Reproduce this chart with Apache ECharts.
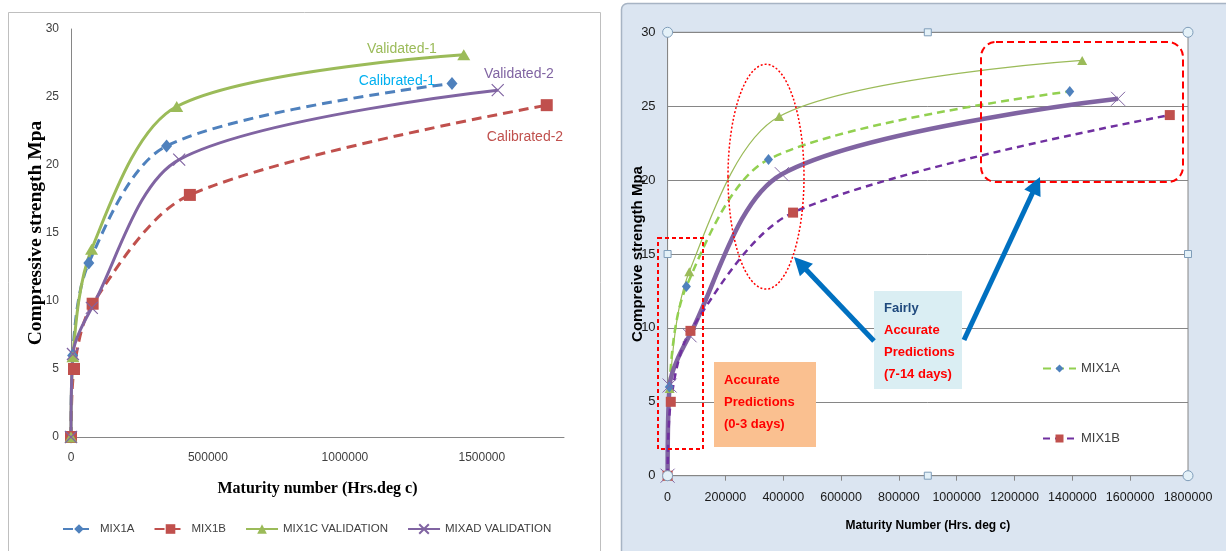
<!DOCTYPE html>
<html>
<head>
<meta charset="utf-8">
<script src="https://cdn.jsdelivr.net/npm/echarts@6/dist/echarts.min.js"></script>
<style>html,body{margin:0;padding:0;background:#fff;}#c{width:1226px;height:551px;}</style>
</head>
<body>
<div id="c"></div>
<script>
// ---- data ----
const mix1aX = [0, 6000, 65000, 349000, 1391000];
const mix1aY = [0, 6.0, 12.8, 21.4, 26.0];
const mix1bX = [0, 11000, 79000, 434000, 1737000];
const mix1bY = [0, 5.0, 9.8, 17.8, 24.4];
const mix1cX = [0, 7000, 75000, 386000, 1434000];
const mix1cY = [0, 5.9, 13.8, 24.3, 28.1];
const mixadX = [0, 7000, 76000, 395000, 1558000];
const mixadY = [0, 6.1, 9.5, 20.4, 25.5];
const seriesNames = ['MIX1A', 'MIX1B', 'MIX1C VALIDATION', 'MIXAD VALIDATION'];
const rightLegendNames = ['MIX1A', 'MIX1B'];
const leftNotes = ['Validated-1', 'Calibrated-1', 'Validated-2', 'Calibrated-2'];
const box1Lines = ['Accurate', 'Predictions', '(0-3 days)'];
const box2Lines = ['Fairly', 'Accurate', 'Predictions', '(7-14 days)'];
const yTitleLeft = 'Compressive strength Mpa';
const xTitleLeft = 'Maturity number (Hrs.deg c)';
const yTitleRight = 'Compreive strength Mpa';
const xTitleRight = 'Maturity Number (Hrs. deg c)';

function pts(xs, ys) { return xs.map((x, i) => [x, ys[i]]); }
const XSYM = 'path://M0,0L10,10M10,0L0,10';

function arrow(x1, y1, x2, y2, w, hl, hw, color) {
  const dx = x2 - x1, dy = y2 - y1, L = Math.sqrt(dx * dx + dy * dy);
  const ux = dx / L, uy = dy / L, px = -uy, py = ux;
  const bx = x2 - ux * hl, by = y2 - uy * hl;
  return [
    { type: 'line', z: 80, shape: { x1: x1, y1: y1, x2: bx + ux * 2, y2: by + uy * 2 }, style: { stroke: color, lineWidth: w } },
    { type: 'polygon', z: 80, shape: { points: [[x2, y2], [bx + px * hw, by + py * hw], [bx - px * hw, by - py * hw]] }, style: { fill: color } }
  ];
}

const PL = 667.6, PT = 32.3, PR = 1188, PB = 475.7;
const handles = [];
[[PL, PT], [PR, PT], [PL, PB], [PR, PB]].forEach(p => handles.push({ type: 'circle', z: 90, shape: { cx: p[0], cy: p[1], r: 5 }, style: { fill: '#E4F1F8', stroke: '#7F9DB9', lineWidth: 1 } }));
[[(PL + PR) / 2, PT], [PL, (PT + PB) / 2], [PR, (PT + PB) / 2], [(PL + PR) / 2, PB]].forEach(p => handles.push({ type: 'rect', z: 90, shape: { x: p[0] - 3.5, y: p[1] - 3.5, width: 7, height: 7 }, style: { fill: '#E4F1F8', stroke: '#7F9DB9', lineWidth: 1 } }));

const noteFont = '14px "Liberation Sans", Arial, sans-serif';
const boxFont = 'bold 13px "Liberation Sans", Arial, sans-serif';

const graphics = [
  { type: 'rect', z: -5, shape: { x: 8.5, y: 12.5, width: 592, height: 560 }, style: { fill: '#fff', stroke: '#BFBFBF', lineWidth: 1 } },
  { type: 'rect', z: -5, shape: { x: 621.5, y: 3.5, width: 620, height: 560, r: 6 }, style: { fill: '#DBE5F1', stroke: '#A7B4C4', lineWidth: 1.5 } },
  // left notes
  { type: 'text', z: 50, style: { text: leftNotes[0], x: 402, y: 49, align: 'center', verticalAlign: 'middle', font: noteFont, fill: '#9BBB59' } },
  { type: 'text', z: 50, style: { text: leftNotes[1], x: 397, y: 81, align: 'center', verticalAlign: 'middle', font: noteFont, fill: '#00B0F0' } },
  { type: 'text', z: 50, style: { text: leftNotes[2], x: 519, y: 74, align: 'center', verticalAlign: 'middle', font: noteFont, fill: '#8064A2' } },
  { type: 'text', z: 50, style: { text: leftNotes[3], x: 525, y: 137, align: 'center', verticalAlign: 'middle', font: noteFont, fill: '#C0504D' } },
  // right annotations
  { type: 'rect', z: 50, shape: { x: 658, y: 238, width: 45, height: 211 }, style: { fill: 'none', stroke: '#FF0000', lineWidth: 2, lineDash: [4, 3] } },
  { type: 'rect', z: 50, shape: { x: 981, y: 42, width: 202, height: 140, r: 15 }, style: { fill: 'none', stroke: '#FF0000', lineWidth: 2, lineDash: [7, 4] } },
  { type: 'ellipse', z: 50, shape: { cx: 766, cy: 176.7, rx: 38, ry: 112.4 }, style: { fill: 'none', stroke: '#FF0000', lineWidth: 1.5, lineDash: [2, 2] } },
  { type: 'rect', z: 50, shape: { x: 714, y: 362, width: 102, height: 85 }, style: { fill: '#FAC090' } },
  { type: 'rect', z: 50, shape: { x: 874, y: 291, width: 88, height: 98 }, style: { fill: '#DAEEF3' } },
  ...arrow(874, 341, 794, 257, 5, 18, 9, '#0070C0'),
  ...arrow(964, 340, 1040, 177, 5, 18, 9, '#0070C0'),
  ...handles
];
box1Lines.forEach((t, i) => graphics.push({ type: 'text', z: 60, style: { text: t, x: 724, y: 380 + i * 22, verticalAlign: 'middle', font: boxFont, fill: '#FF0000' } }));
box2Lines.forEach((t, i) => graphics.push({ type: 'text', z: 60, style: { text: t, x: 884, y: 308 + i * 22.3, verticalAlign: 'middle', font: boxFont, fill: i === 0 ? '#1F497D' : '#FF0000' } }));

const lblL = { color: '#404040', fontSize: 12, fontFamily: '"Liberation Sans", Arial, sans-serif' };
const SM = 0.3;
const chart = echarts.init(document.getElementById('c'));
chart.setOption({
  animation: false,
  graphic: graphics,
  grid: [
    { left: 71, top: 29, width: 493, height: 408 },
    { left: PL, top: PT, width: PR - PL, height: PB - PT, show: true, backgroundColor: '#fff', borderColor: '#868686', borderWidth: 1 }
  ],
  legend: [
    { data: seriesNames, orient: 'horizontal', left: 57, top: 518, itemWidth: 32, itemHeight: 12, itemGap: 19,
      textStyle: { color: '#404040', fontSize: 11.5, fontFamily: '"Liberation Sans", Arial, sans-serif' } },
    { data: rightLegendNames.map(n => 'R-' + n), orient: 'vertical', left: 1037, top: 357, itemWidth: 33, itemHeight: 10, itemGap: 57,
      formatter: n => n.replace('R-', ''),
      textStyle: { color: '#404040', fontSize: 13, fontFamily: '"Liberation Sans", Arial, sans-serif' } }
  ],
  xAxis: [
    { type: 'value', gridIndex: 0, min: 0, max: 1800000, interval: 500000,
      name: xTitleLeft, nameLocation: 'middle', nameGap: 44, nameMoveOverlap: false,
      nameTextStyle: { fontFamily: '"Liberation Serif", "Times New Roman", serif', fontWeight: 'bold', fontSize: 16, color: '#000' },
      axisLine: { show: true, lineStyle: { color: '#868686' } }, axisTick: { show: false }, splitLine: { show: false },
      axisLabel: Object.assign({ margin: 15, formatter: v => (v % 500000 === 0 ? String(v) : '') }, lblL) },
    { type: 'value', gridIndex: 1, min: 0, max: 1800000, interval: 200000,
      name: xTitleRight, nameLocation: 'middle', nameGap: 44, nameMoveOverlap: false,
      nameTextStyle: { fontFamily: '"Liberation Sans", Arial, sans-serif', fontWeight: 'bold', fontSize: 12, color: '#000' },
      axisLine: { show: true, lineStyle: { color: '#868686' } }, axisTick: { show: true, length: 5, lineStyle: { color: '#868686' } }, splitLine: { show: false },
      axisLabel: { margin: 15, color: '#1a1a1a', fontSize: 12.5, fontFamily: '"Liberation Sans", Arial, sans-serif', formatter: v => String(v) } }
  ],
  yAxis: [
    { type: 'value', gridIndex: 0, min: 0, max: 30, interval: 5,
      name: yTitleLeft, nameLocation: 'middle', nameGap: 25, nameRotate: 90, nameMoveOverlap: false,
      nameTextStyle: { fontFamily: '"Liberation Serif", "Times New Roman", serif', fontWeight: 'bold', fontSize: 19.5, color: '#000' },
      axisLine: { show: true, lineStyle: { color: '#868686' } }, axisTick: { show: false }, splitLine: { show: false },
      axisLabel: Object.assign({ margin: 12 }, lblL) },
    { type: 'value', gridIndex: 1, min: 0, max: 30, interval: 5,
      name: yTitleRight, nameLocation: 'middle', nameGap: 22, nameRotate: 90, nameMoveOverlap: false,
      nameTextStyle: { fontFamily: '"Liberation Sans", Arial, sans-serif', fontWeight: 'bold', fontSize: 15, color: '#000' },
      axisLine: { show: true, lineStyle: { color: '#868686' } }, axisTick: { show: false },
      splitLine: { show: true, lineStyle: { color: '#868686', width: 1 } },
      axisLabel: { margin: 12, color: '#1a1a1a', fontSize: 13, fontFamily: '"Liberation Sans", Arial, sans-serif' } }
  ],
  series: [
    { name: seriesNames[0], type: 'line', xAxisIndex: 0, yAxisIndex: 0, data: pts(mix1aX, mix1aY), smooth: SM,
      symbol: 'diamond', symbolSize: [11, 13], lineStyle: { color: '#4F81BD', width: 3, type: [10, 6] }, itemStyle: { color: '#4F81BD' } },
    { name: seriesNames[1], type: 'line', xAxisIndex: 0, yAxisIndex: 0, data: pts(mix1bX, mix1bY), smooth: SM,
      symbol: 'rect', symbolSize: 12, lineStyle: { color: '#C0504D', width: 3, type: [10, 6] }, itemStyle: { color: '#C0504D' } },
    { name: seriesNames[2], type: 'line', xAxisIndex: 0, yAxisIndex: 0, data: pts(mix1cX, mix1cY), smooth: SM,
      symbol: 'triangle', symbolSize: [13, 11], lineStyle: { color: '#9BBB59', width: 3 }, itemStyle: { color: '#9BBB59' } },
    { name: seriesNames[3], type: 'line', xAxisIndex: 0, yAxisIndex: 0, data: pts(mixadX, mixadY), smooth: SM,
      symbol: XSYM, symbolSize: 12, lineStyle: { color: '#8064A2', width: 3 }, itemStyle: { color: '#8064A2', borderColor: '#8064A2', borderWidth: 1.2 } },

    { name: 'R-MIX1C', type: 'line', xAxisIndex: 1, yAxisIndex: 1, data: pts(mix1cX, mix1cY), smooth: SM,
      symbol: 'triangle', symbolSize: [10, 9], lineStyle: { color: '#9BBB59', width: 1.2 }, itemStyle: { color: '#9BBB59' } },
    { name: 'R-MIX1A', type: 'line', xAxisIndex: 1, yAxisIndex: 1, data: pts(mix1aX, mix1aY), smooth: SM,
      symbol: 'diamond', symbolSize: [9, 11], lineStyle: { color: '#92D050', width: 2.5, type: [8, 5] }, itemStyle: { color: '#4F81BD' } },
    { name: 'R-MIXAD', type: 'line', xAxisIndex: 1, yAxisIndex: 1, data: pts(mixadX, mixadY), smooth: SM,
      symbol: XSYM, symbolSize: 14, lineStyle: { color: '#8064A2', width: 4.5 }, itemStyle: { color: '#8064A2', borderColor: '#8064A2', borderWidth: 1 } },
    { name: 'R-MIX1B', type: 'line', xAxisIndex: 1, yAxisIndex: 1, data: pts(mix1bX, mix1bY), smooth: SM,
      symbol: 'rect', symbolSize: 10, lineStyle: { color: '#7030A0', width: 2.5, type: [7, 5] }, itemStyle: { color: '#C0504D' } }
  ]
});
</script>
</body>
</html>
